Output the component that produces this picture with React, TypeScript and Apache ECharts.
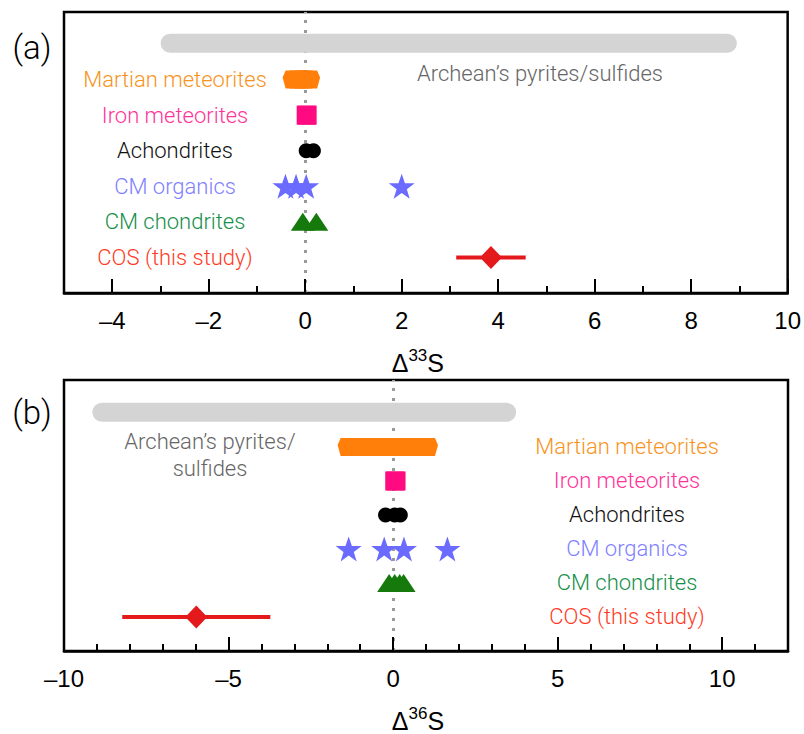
import React, { useEffect, useRef } from "react";
import * as echarts from "echarts";

// ---------- data ----------
const rowLabels = [
  "COS (this study)",
  "CM chondrites",
  "CM organics",
  "Achondrites",
  "Iron meteorites",
  "Martian meteorites",
];
const rowTextColors = ["#FF3B1F", "#16904A", "#7F7FFF", "#111111", "#FF3399", "#F7941D"];

// panel (a): Δ33S
const xMajorA = [-4, -2, 0, 2, 4, 6, 8, 10];
const xMinorA = [-3, -1, 1, 3, 5, 7, 9];
const archeanA = [-2.8, 8.75];
const martianA = [-0.22, -0.13, -0.04, 0.06];
const ironA = [0.02, 0.04];
const achondritesA = [0.02, 0.17];
const cmOrganicsA = [-0.41, -0.19, 0.02, 2.0];
const cmChondritesA = [-0.05, 0.23];
const cosA = [3.85];
const cosErrA = [0.72];

// panel (b): Δ36S
const xMajorB = [-10, -5, 0, 5, 10];
const xMinorB = [-9, -8, -7, -6, -4, -3, -2, -1, 1, 2, 3, 4, 6, 7, 8, 9, 11];
const archeanB = [-8.85, 3.45];
const martianB = [-1.32, -1.12, -0.95, -0.75, -0.57, -0.38, -0.2, -0.03, 0.15, 0.32, 0.5, 0.66, 0.84, 1.0];
const ironB = [0.05, 0.09];
const achondritesB = [-0.23, 0.05, 0.22];
const cmOrganicsB = [-1.35, -0.27, 0.33, 1.65];
const cmChondritesB = [-0.12, 0.05, 0.2, 0.32];
const cosB = [-5.98];
const cosErrB = [2.25];

// row indices
const ROW = { cos: 0, cmChondrites: 1, cmOrganics: 2, achondrites: 3, iron: 4, martian: 5, archean: 6.02 };

const LABEL_FONT = "Roboto";
const NUM_FONT = "Liberation Sans";

const STAR =
  "path://M50,0 L61.8,34.5 L97.6,34.5 L68.8,55.9 L79.4,90.5 L50,69.1 L20.6,90.5 L31.2,55.9 L2.4,34.5 L38.2,34.5 Z";
const HEX = "path://M3,0 L21,0 L24,7 L21,18 L3,18 L0,7 Z";

function pts(xs: number[], row: number) {
  return xs.map((x) => [x, row]);
}

function panelSeries(
  gi: number,
  d: {
    archean: number[];
    martian: number[];
    iron: number[];
    achondrites: number[];
    cmOrganics: number[];
    cmChondrites: number[];
    cos: number[];
    cosErr: number[];
  }
) {
  const xi = gi * 2;
  const yi = gi;
  const base = { xAxisIndex: xi, yAxisIndex: yi, silent: true };
  return [
    {
      ...base,
      type: "line",
      z: 1,
      data: pts(d.archean, ROW.archean),
      symbol: "none",
      lineStyle: { color: "#D4D4D4", width: 19, cap: "round" },
      markLine: {
        silent: true,
        symbol: "none",
        label: { show: false },
        lineStyle: { color: "#999999", width: 3, type: [3, 7] },
        data: [{ xAxis: 0 }],
        z: 0,
      },
    },
    {
      ...base,
      type: "scatter",
      z: 3,
      data: pts(d.martian, ROW.martian),
      symbol: HEX,
      symbolSize: [24, 18],
      itemStyle: { color: "#FF7F0A", opacity: 1 },
    },
    {
      ...base,
      type: "scatter",
      z: 3,
      data: pts(d.iron, ROW.iron),
      symbol: "rect",
      symbolSize: 19,
      itemStyle: { color: "#FF0A80", opacity: 1 },
    },
    {
      ...base,
      type: "scatter",
      z: 3,
      data: pts(d.achondrites, ROW.achondrites),
      symbol: "circle",
      symbolSize: 15,
      itemStyle: { color: "#000000", opacity: 1 },
    },
    {
      ...base,
      type: "scatter",
      z: 3,
      data: pts(d.cmOrganics, ROW.cmOrganics),
      symbol: STAR,
      symbolSize: [26, 25],
      itemStyle: { color: "#6B6BFF", opacity: 1 },
    },
    {
      ...base,
      type: "scatter",
      z: 3,
      data: pts(d.cmChondrites, ROW.cmChondrites),
      symbol: "triangle",
      symbolSize: [24, 18],
      itemStyle: { color: "#157A0B", opacity: 1 },
    },
    {
      ...base,
      type: "line",
      z: 2,
      data: [
        [d.cos[0] - d.cosErr[0], ROW.cos],
        [d.cos[0] + d.cosErr[0], ROW.cos],
      ],
      symbol: "none",
      lineStyle: { color: "#E3191C", width: 4 },
    },
    {
      ...base,
      type: "scatter",
      z: 3,
      data: pts(d.cos, ROW.cos),
      symbol: "diamond",
      symbolSize: [22, 23],
      itemStyle: { color: "#E3191C", opacity: 1 },
    },
  ];
}

function minus(v: number) {
  return String(v).replace("-", "\u2013");
}

function xAxes(gi: number, min: number, max: number, major: number[], minor: number[], sup: string) {
  return [
    {
      type: "value",
      gridIndex: gi,
      min,
      max,
      position: "bottom",
      axisLine: { show: true, onZero: false, lineStyle: { color: "#000", width: 2.5 } },
      axisTick: { show: true, inside: true, length: 14, customValues: major, lineStyle: { color: "#000", width: 2 } },
      axisLabel: {
        show: true,
        customValues: major,
        margin: 15,
        fontSize: 24,
        fontFamily: NUM_FONT,
        color: "#000",
        formatter: (v: number) => minus(v),
      },
      splitLine: { show: false },
      name: "{d|\u0394}{sup|" + sup + "}{s|S}",
      nameLocation: "middle",
      nameGap: 54,
      nameTextStyle: {
        padding: [0, 16, 0, 0],
        rich: {
          d: { fontSize: 25, fontFamily: NUM_FONT, color: "#000" },
          sup: { fontSize: 17, fontFamily: NUM_FONT, color: "#000", padding: [0, 0, 14, 0] },
          s: { fontSize: 25, fontFamily: NUM_FONT, color: "#000" },
        },
      },
    },
    {
      type: "value",
      gridIndex: gi,
      min,
      max,
      position: "bottom",
      axisLine: { show: false, onZero: false },
      axisTick: { show: true, inside: true, length: 7, customValues: minor, lineStyle: { color: "#000", width: 2 } },
      axisLabel: { show: false },
      splitLine: { show: false },
    },
  ];
}

function yAxis(gi: number, max: number, pos: string, margin: number) {
  const rich: any = {};
  rowLabels.forEach((_, i) => {
    rich["c" + i] = { color: rowTextColors[i], fontSize: 22, fontFamily: LABEL_FONT, fontWeight: 300 };
  });
  return {
    type: "value",
    gridIndex: gi,
    min: -1,
    max,
    position: pos,
    axisLine: { show: false, onZero: false },
    axisTick: { show: false },
    splitLine: { show: false },
    axisLabel: {
      show: true,
      inside: true,
      margin,
      align: "center",
      customValues: [0, 1, 2, 3, 4, 5],
      formatter: (v: number) => {
        const i = Math.round(v);
        return "{c" + i + "|" + rowLabels[i] + "}";
      },
      rich,
    },
  };
}

export default function App() {
  const ref = useRef<HTMLDivElement>(null);
  useEffect(() => {
    document.body.style.margin = "0";
    const chart = echarts.init(ref.current!, undefined, { renderer: "svg" });
    const option: any = {
      animation: false,
      backgroundColor: "#ffffff",
      grid: [
        { left: 64, top: 12, width: 724, height: 281, show: true, borderColor: "#000", borderWidth: 2.5, backgroundColor: "transparent" },
        { left: 64, top: 380, width: 724, height: 281, show: true, borderColor: "#000", borderWidth: 2.5, backgroundColor: "transparent" },
      ],
      xAxis: [
        ...xAxes(0, -5, 10, xMajorA, xMinorA, "33"),
        ...xAxes(1, -10, 12, xMajorB, xMinorB, "36"),
      ],
      yAxis: [yAxis(0, 6.9, "left", 111), yAxis(1, 6.97, "right", 161)],
      series: [
        ...panelSeries(0, {
          archean: archeanA,
          martian: martianA,
          iron: ironA,
          achondrites: achondritesA,
          cmOrganics: cmOrganicsA,
          cmChondrites: cmChondritesA,
          cos: cosA,
          cosErr: cosErrA,
        }),
        ...panelSeries(1, {
          archean: archeanB,
          martian: martianB,
          iron: ironB,
          achondrites: achondritesB,
          cmOrganics: cmOrganicsB,
          cmChondrites: cmChondritesB,
          cos: cosB,
          cosErr: cosErrB,
        }),
      ],
      graphic: [
        {
          type: "text",
          x: 32,
          y: 47,
          style: { text: "(a)", fontSize: 33, fontFamily: LABEL_FONT, fontWeight: 300, fill: "#000", align: "center", verticalAlign: "middle" },
        },
        {
          type: "text",
          x: 32,
          y: 412,
          style: { text: "(b)", fontSize: 33, fontFamily: LABEL_FONT, fontWeight: 300, fill: "#000", align: "center", verticalAlign: "middle" },
        },
        {
          type: "text",
          x: 540,
          y: 73,
          style: { text: "Archean\u2019s pyrites/sulfides", fontSize: 22, fontFamily: LABEL_FONT, fontWeight: 300, fill: "#666666", align: "center", verticalAlign: "middle" },
        },
        {
          type: "text",
          x: 210,
          y: 455,
          style: {
            text: "Archean\u2019s pyrites/\nsulfides",
            fontSize: 22,
            lineHeight: 27,
            fontFamily: LABEL_FONT,
            fontWeight: 300,
            fill: "#666666",
            align: "center",
            verticalAlign: "middle",
          },
        },
      ],
    };
    chart.setOption(option);
    return () => chart.dispose();
  }, []);
  return <div ref={ref} style={{ position: "absolute", left: 0, top: 0, width: 804, height: 734 }} />;
}
